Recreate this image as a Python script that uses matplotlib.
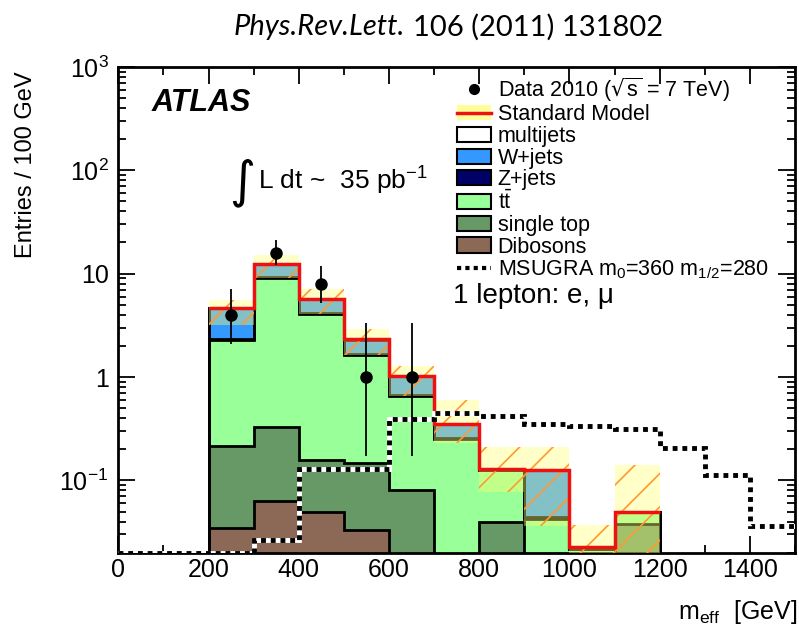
import matplotlib
matplotlib.use("Agg")
import matplotlib.pyplot as plt
from matplotlib.patches import Patch
from matplotlib.lines import Line2D
from matplotlib.ticker import LogLocator, MultipleLocator, NullFormatter
import numpy as np

plt.rcParams['font.family'] = ['Liberation Sans', 'DejaVu Sans']
plt.rcParams['mathtext.default'] = 'regular'
plt.rcParams['hatch.linewidth'] = 1.2

# bins of 100 GeV from 0 to 1500
edges = np.arange(0, 1600, 100)

# stacked backgrounds (entries / 100 GeV), bottom to top
dibosons = [0, 0, 0.035, 0.063, 0.050, 0.033, 0, 0, 0, 0, 0, 0, 0, 0, 0]
single_top = [0, 0, 0.180, 0.262, 0.107, 0.116, 0.080, 0, 0.040, 0, 0, 0.038, 0, 0, 0]
ttbar = [0, 0, 2.09, 8.78, 3.93, 1.49, 0.58, 0.25, 0.086, 0.042, 0.0215, 0.012, 0, 0, 0]
zjets = [0, 0, 0.03, 0.10, 0.06, 0.03, 0.01, 0.005, 0, 0.002, 0, 0, 0, 0, 0]
wjets = [0, 0, 2.32, 3.05, 1.48, 0.63, 0.35, 0.10, 0.002, 0.082, 0.001, 0, 0, 0, 0]
multijets = [0, 0, 0.02, 0.05, 0.02, 0.01, 0, 0, 0, 0, 0, 0, 0, 0, 0]

# SM uncertainty band, bins 200-1200
band_lo = [3.2, 9.0, 4.1, 1.64, 0.66, 0.23, 0.078, 0.036, 0.005, 0.005]
band_hi = [5.5, 15.2, 7.1, 2.91, 1.29, 0.60, 0.211, 0.211, 0.037, 0.14]

# MSUGRA signal
msugra = [0.02, 0.02, 0.02, 0.0268, 0.129, 0.129, 0.393, 0.449, 0.423, 0.352,
          0.338, 0.314, 0.206, 0.114, 0.0365]

# data 2010
data_x = [250, 350, 450, 550, 650]
data_y = [4, 16, 8, 1, 1]
data_elo = [1.91, 3.96, 2.77, 0.827, 0.827]
data_ehi = [3.16, 5.08, 3.94, 2.30, 2.30]

c_multi = 'white'
c_w = '#3399ff'
c_z = '#000066'
c_tt = '#99ff99'
c_st = '#669966'
c_db = '#8c6856'
c_band = (1.0, 1.0, 0.45, 0.4)
c_hatch = '#ff9933'
c_sm = '#ee1111'

fig = plt.figure(figsize=(7.99, 6.35), dpi=100)
ax = fig.add_axes([118.3 / 799, 1 - 552.7 / 635, (795 - 118.3) / 799, (552.7 - 66.8) / 635])
ax.set_yscale('log')

layers = [dibosons, single_top, ttbar, zjets, wjets, multijets]
colors = [c_db, c_st, c_tt, c_z, c_w, c_multi]
cum = np.cumsum(np.array(layers), axis=0)
for i in range(len(layers) - 1, -1, -1):
    vals = np.where(cum[i] > 0, cum[i], 1e-4)
    ax.stairs(vals, edges, baseline=1e-4, fill=True, facecolor=colors[i],
              edgecolor='none', zorder=2)
    ax.stairs(vals, edges, baseline=1e-4, color='black', lw=2, zorder=3)

# uncertainty band
centers = (edges[2:12] + edges[3:13]) / 2
heights = np.array(band_hi) - np.array(band_lo)
ax.bar(centers, heights, bottom=band_lo, width=100, facecolor=c_band,
       edgecolor='none', linewidth=0, zorder=4)
ax.bar(centers, heights, bottom=band_lo, width=100, facecolor='none',
       edgecolor=c_hatch, hatch='/', linewidth=0, zorder=4)

# SM total
total = cum[-1]
ax.stairs(total[2:12], edges[2:13], baseline=None, color=c_sm, lw=2.5, zorder=5)

# MSUGRA
ax.stairs(msugra, edges, baseline=None, color='white', lw=3.5, zorder=6)
ax.stairs(msugra, edges, baseline=None, color='black', lw=3.5,
          linestyle=(0, (1, 1)), zorder=7)

# data
ax.errorbar(data_x, data_y, yerr=[data_elo, data_ehi], fmt='o', color='black',
            ms=8, elinewidth=1.3, capsize=0, zorder=8)

ax.set_xlim(0, 1500)
ax.set_ylim(0.02, 1000)
ax.set_yticks([0.1, 1, 10, 100, 1000], labels=['10$^{-1}$', '1', '10', '10$^{2}$', '10$^{3}$'])
ax.yaxis.set_minor_locator(LogLocator(base=10, subs=np.arange(2, 10)))
ax.yaxis.set_minor_formatter(NullFormatter())
ax.set_xticks(np.arange(0, 1500, 200))
ax.xaxis.set_minor_locator(MultipleLocator(100))
ax.tick_params(which='both', direction='in', top=True, right=True, width=1.3, labelsize=18)
ax.tick_params(which='major', length=12)
ax.tick_params(axis='x', which='major', pad=4)
ax.tick_params(axis='y', which='major', pad=7)
ax.tick_params(which='minor', length=6)
for s in ax.spines.values():
    s.set_linewidth(2)

# legend
handles = [
    Line2D([], [], marker='o', ls='none', color='black', ms=7),
    (Patch(facecolor=(1.0, 1.0, 0.6), edgecolor='none'), Line2D([], [], color=c_sm, lw=2.5)),
    Patch(facecolor=c_multi, edgecolor='black', lw=1.5),
    Patch(facecolor=c_w, edgecolor='black', lw=1.5),
    Patch(facecolor=c_z, edgecolor='black', lw=1.5),
    Patch(facecolor=c_tt, edgecolor='black', lw=1.5),
    Patch(facecolor=c_st, edgecolor='black', lw=1.5),
    Patch(facecolor=c_db, edgecolor='black', lw=1.5),
    Line2D([], [], color='black', lw=3, ls=(0, (1, 1))),
]
labels = [
    r'Data 2010 ($\sqrt{s}$ = 7 TeV)',
    'Standard Model',
    'multijets',
    'W+jets',
    'Z+jets',
    r't$\bar{t}$',
    'single top',
    'Dibosons',
    'MSUGRA m$_0$=360 m$_{1/2}$=280',
]
ax.legend(handles, labels, loc='upper left', bbox_to_anchor=(0.500, 0.982),
          frameon=False, fontsize=15.5, handlelength=1.6, handleheight=0.7,
          handletextpad=0.3, labelspacing=0.03, borderpad=0, borderaxespad=0)

fig.text(453 / 799, 1 - 296 / 635, '1 lepton: e, μ', fontsize=20, va='center', ha='left')
fig.text(152 / 799, 1 - 103 / 635, 'ATLAS', fontsize=22, fontweight='bold',
         style='italic', va='center', ha='left')
fig.text(229 / 799, 1 - 183 / 635, '∫', fontsize=36, family='DejaVu Sans',
         va='center', ha='left')
fig.text(258 / 799, 1 - 181 / 635, 'L dt ~  35 pb$^{-1}$', fontsize=19,
         va='center', ha='left')

fig.text(26 / 799, 1 - 71 / 635, 'Entries / 100 GeV', rotation=90, fontsize=17,
         va='top', ha='center')
fig.text(797 / 799, 1 - 612 / 635, 'm$_{eff}$  [GeV]', fontsize=18,
         va='center', ha='right')

fig.text(405 / 799, 1 - 27 / 635, 'Phys.Rev.Lett.', fontsize=21, family='Lato',
         style='italic', va='center', ha='right')
fig.text(413 / 799, 1 - 27 / 635, '106 (2011) 131802', fontsize=21, family='Lato',
         va='center', ha='left')

fig.savefig('out.png', dpi=100)
